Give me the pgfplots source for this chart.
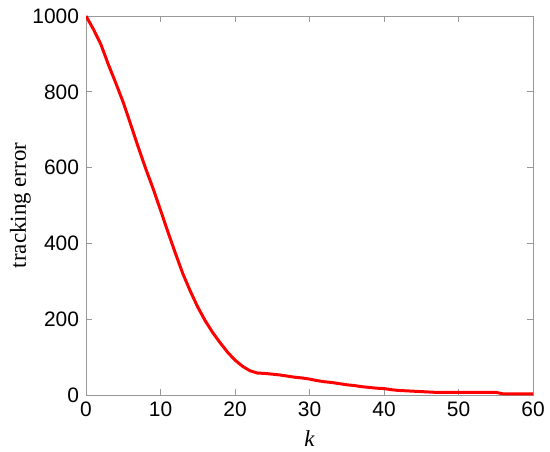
\documentclass[border=0pt]{standalone}
\usepackage{fontspec}
\setmainfont{Liberation Sans}
\newfontfamily\tnr{Liberation Serif}
\usepackage{pgfplots}
\pgfplotsset{compat=1.18}
\begin{document}
\begin{tikzpicture}
\begin{axis}[
  name=ax,
  scale only axis,
  width=223.5bp, height=189.5bp,
  xmin=0, xmax=60, ymin=0, ymax=1000,
  xtick={0,10,...,60}, ytick={0,200,...,1000},
  tick align=inside,
  major tick length=3bp,
  axis line style={draw=black!40},
  tick style={draw=black!40, line width=0.5pt},
  ticklabel style={font=\fontsize{10.5}{12}\selectfont},
  /pgf/number format/assume math mode=true,
  /pgf/number format/1000 sep={},
  xlabel={\tnr\itshape k},
  ylabel={\tnr tracking error},
  ylabel shift=-6bp,
  label style={font=\fontsize{11.5}{13}\selectfont},
]
  %% tracking error per iteration
  \addplot[red, line width=1.5pt] coordinates {
    (0,1000) (1,965) (2,925) (3,872) (4,823) (5,772) (6,714) (7,655)
    (8,598) (9,545) (10,488) (11,430) (12,374) (13,320) (14,274)
    (15,232) (16,196) (17,165) (18,138) (19,113) (20,92) (21,76)
    (22,64) (23,58) (24,57) (25,55) (26,53) (27,50) (28,47) (29,45)
    (30,42) (31,38) (32,35) (33,33) (34,30) (35,27) (36,25) (37,22)
    (38,20) (39,18) (40,17) (41,14) (42,12) (43,11) (44,10) (45,9)
    (46,8) (47,7) (50,7) (55,7) (56,3) (60,3)
  };
\end{axis}
\pgfresetboundingbox
\path ([shift={(-43bp,-28bp)}]ax.south west) rectangle ([shift={(8.5bp,8bp)}]ax.north east);
\end{tikzpicture}
\end{document}
